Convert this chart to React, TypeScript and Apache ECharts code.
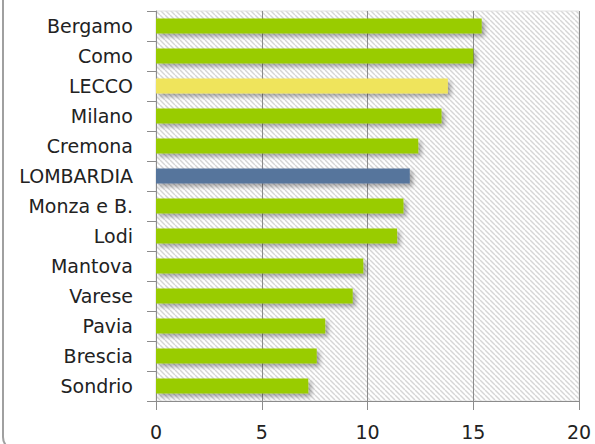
import React, { useEffect, useRef } from "react";
import * as echarts from "echarts";

const categories = ["Bergamo", "Como", "LECCO", "Milano", "Cremona", "LOMBARDIA", "Monza e B.", "Lodi", "Mantova", "Varese", "Pavia", "Brescia", "Sondrio"];
const values = [15.4, 15.0, 13.8, 13.5, 12.4, 12.0, 11.7, 11.4, 9.8, 9.3, 8.0, 7.6, 7.2];
const barColors = ["#99CC00", "#99CC00", "#EFE45C", "#99CC00", "#99CC00", "#56759C", "#99CC00", "#99CC00", "#99CC00", "#99CC00", "#99CC00", "#99CC00", "#99CC00"];

function makeHatch(): string {
  const s = 5;
  const c = document.createElement("canvas");
  c.width = s;
  c.height = s;
  const ctx = c.getContext("2d");
  if (ctx) {
    ctx.fillStyle = "#ffffff";
    ctx.fillRect(0, 0, s, s);
    ctx.strokeStyle = "#d6d6d6";
    ctx.lineWidth = 1.4;
    for (const x0 of [-s, 0, s]) {
      ctx.beginPath();
      ctx.moveTo(x0, 0);
      ctx.lineTo(x0 + s, s);
      ctx.stroke();
    }
  }
  return c.toDataURL();
}

export default function App() {
  const ref = useRef<HTMLDivElement>(null);
  useEffect(() => {
    if (!ref.current) return;
    const chart = echarts.init(ref.current, null, { renderer: "svg" });
    const hatch = makeHatch();
    chart.setOption({
      animation: false,
      backgroundColor: "#ffffff",
      textStyle: { fontFamily: "DejaVu Sans" },
      grid: {
        left: 156,
        right: 16,
        top: 11,
        bottom: 43,
        show: true,
        borderColor: "#e2e2e2",
        borderWidth: 1,
        backgroundColor: { image: hatch, repeat: "repeat" },
      },
      graphic: [
        {
          type: "rect",
          shape: { x: 3, y: -30, width: 640, height: 480, r: 13 },
          style: { fill: "none", stroke: "#a0a0a0", lineWidth: 2 },
          silent: true,
          z: 10,
        },
      ],
      xAxis: {
        type: "value",
        min: 0,
        max: 20,
        interval: 5,
        axisLine: { show: true, lineStyle: { color: "#8c8c8c", width: 1 } },
        axisTick: { show: true, length: 9, lineStyle: { color: "#8c8c8c" } },
        splitLine: { show: true, lineStyle: { color: "#8c8c8c", width: 1 } },
        axisLabel: { color: "#222", fontSize: 19, margin: 21, fontFamily: "DejaVu Sans" },
      },
      yAxis: {
        type: "category",
        inverse: true,
        data: categories,
        axisLine: { show: true, lineStyle: { color: "#8c8c8c", width: 1 } },
        axisTick: { show: true, length: 9, lineStyle: { color: "#8c8c8c" } },
        axisLabel: { color: "#222", fontSize: 19, margin: 23, fontFamily: "DejaVu Sans" },
      },
      series: [
        {
          type: "bar",
          barCategoryGap: "50%",
          data: values.map((v, i) => ({
            value: v,
            itemStyle: { color: barColors[i] },
          })),
          itemStyle: {
            shadowColor: "rgba(0,0,0,0.35)",
            shadowBlur: 4,
            shadowOffsetX: 3,
            shadowOffsetY: 3,
          },
        },
      ],
    });
    return () => chart.dispose();
  }, []);
  return <div ref={ref} style={{ width: 595, height: 444, position: "fixed", left: 0, top: 0 }} />;
}
